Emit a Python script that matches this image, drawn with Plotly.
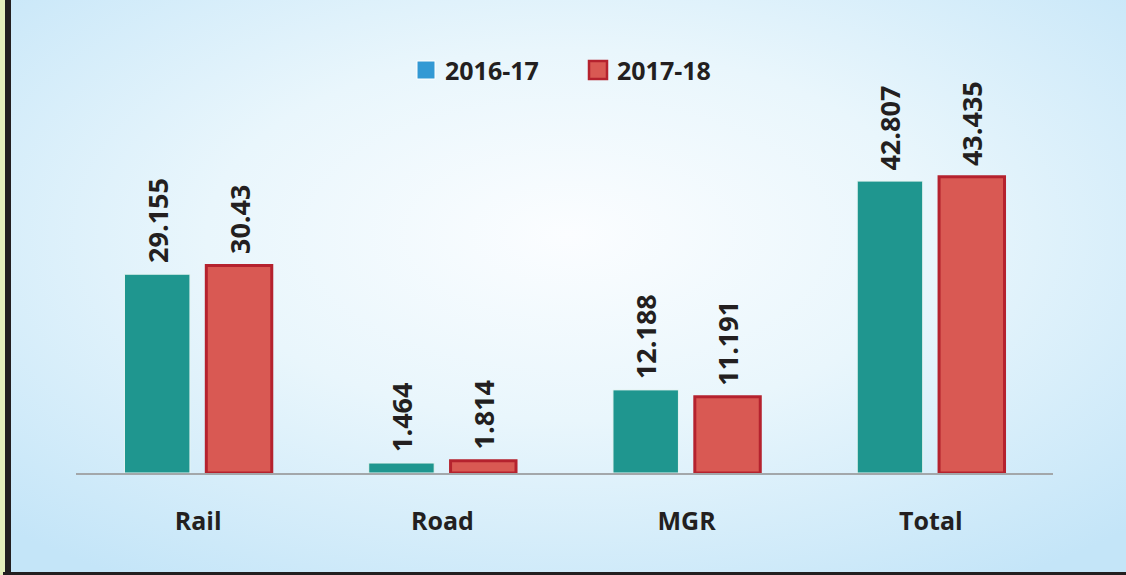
import base64
import plotly.graph_objects as go

# Data
categories = ["Rail", "Road", "MGR", "Total"]
series_names = ["2016-17", "2017-18"]
values_2016_17 = [29.155, 1.464, 12.188, 42.807]
values_2017_18 = [30.43, 1.814, 11.191, 43.435]

# Page geometry
W, H = 1126, 575
ML, MR, MT, MB = 76, 73, 40, 102
PW, PH = W - ML - MR, H - MT - MB
Y_MAX = 63.5
BARGAP, BARGROUPGAP = 0.33, 0.2

TEAL = "#1f968f"
RED_FILL = "#d95953"
RED_EDGE = "#b5222e"
INK = "#231f20"
FONT = "Open Sans"


def px_to_paper_x(px):
    return (px - ML) / PW


def px_to_paper_y(py):
    return (H - MB - py) / PH


fig = go.Figure()
fig.add_trace(go.Bar(
    x=categories, y=values_2016_17, name=series_names[0],
    marker=dict(color=TEAL, line=dict(color="#e6f4f2", width=1)),
    showlegend=False, hoverinfo="x+y",
))
fig.add_trace(go.Bar(
    x=categories, y=values_2017_18, name=series_names[1],
    marker=dict(color=RED_FILL, line=dict(color=RED_EDGE, width=3)),
    showlegend=False, hoverinfo="x+y",
))

# Value labels, rotated above each bar
slot = PW / len(categories) * (1 - BARGAP) / 2
annotations = []
for series, sign in ((values_2016_17, -1), (values_2017_18, 1)):
    for cat, v in zip(categories, series):
        annotations.append(dict(
            x=cat, y=v, xref="x", yref="y", text=f"{v:g}",
            textangle=-90, showarrow=False, xanchor="center", yanchor="bottom",
            xshift=sign * slot / 2, yshift=9,
            font=dict(family=FONT, size=27, color=INK, weight="bold"),
        ))

# Legend drawn as swatches + labels
legend_items = [
    (series_names[0], "#3399d4", "#ffffff", 1, 417, 435),
    (series_names[1], RED_FILL, RED_EDGE, 2.5, 589, 607),
]
shapes = []
for name, fill, edge, lw, x0, x1 in legend_items:
    shapes.append(dict(
        type="rect", xref="paper", yref="paper",
        x0=px_to_paper_x(x0), x1=px_to_paper_x(x1),
        y0=px_to_paper_y(79), y1=px_to_paper_y(61),
        fillcolor=fill, line=dict(color=edge, width=lw), layer="above",
    ))
    annotations.append(dict(
        x=px_to_paper_x(x1 + 8), y=px_to_paper_y(70), xref="paper", yref="paper",
        text=name, showarrow=False, xanchor="left", yanchor="middle",
        font=dict(family=FONT, size=25, color=INK, weight="bold"),
    ))

# Frame: pale strip and dark rules on the left and bottom edges
shapes += [
    dict(type="rect", xref="paper", yref="paper",
         x0=px_to_paper_x(0), x1=px_to_paper_x(5), y0=px_to_paper_y(H), y1=px_to_paper_y(0),
         fillcolor="#e6efbc", line=dict(width=0), layer="above"),
    dict(type="rect", xref="paper", yref="paper",
         x0=px_to_paper_x(5), x1=px_to_paper_x(11), y0=px_to_paper_y(H), y1=px_to_paper_y(0),
         fillcolor=INK, line=dict(width=0), layer="above"),
    dict(type="rect", xref="paper", yref="paper",
         x0=px_to_paper_x(3), x1=px_to_paper_x(W), y0=px_to_paper_y(H), y1=px_to_paper_y(572),
         fillcolor=INK, line=dict(width=0), layer="above"),
]

# Soft radial background
svg = f"""<svg xmlns='http://www.w3.org/2000/svg' width='1115' height='572' viewBox='0 0 1115 572' preserveAspectRatio='none'>
<defs><radialGradient id='g' cx='0.5' cy='0.41' r='0.72'>
<stop offset='0' stop-color='#fbfdff'/>
<stop offset='0.45' stop-color='#e9f6fc'/>
<stop offset='1' stop-color='#c4e5f8'/>
</radialGradient></defs>
<rect width='1115' height='572' fill='url(#g)'/></svg>"""
bg_src = "data:image/svg+xml;base64," + base64.b64encode(svg.encode()).decode()

fig.update_layout(
    width=W, height=H,
    margin=dict(l=ML, r=MR, t=MT, b=MB, pad=0),
    paper_bgcolor="#cde9f8", plot_bgcolor="rgba(0,0,0,0)",
    barmode="group", bargap=BARGAP, bargroupgap=BARGROUPGAP,
    showlegend=False,
    annotations=annotations, shapes=shapes,
    images=[dict(
        source=bg_src, xref="paper", yref="paper",
        x=px_to_paper_x(11), y=px_to_paper_y(0),
        sizex=1115 / PW, sizey=572 / PH,
        xanchor="left", yanchor="top", sizing="stretch", layer="below",
    )],
    xaxis=dict(
        showline=True, linecolor="#a3a7aa", linewidth=1.5,
        ticks="", showgrid=False, zeroline=False, ticklabelstandoff=25,
        tickfont=dict(family=FONT, size=25, color=INK, weight="bold"),
    ),
    yaxis=dict(
        range=[0, Y_MAX], visible=False, showgrid=False, zeroline=False,
    ),
)

fig.write_html("out.html")
